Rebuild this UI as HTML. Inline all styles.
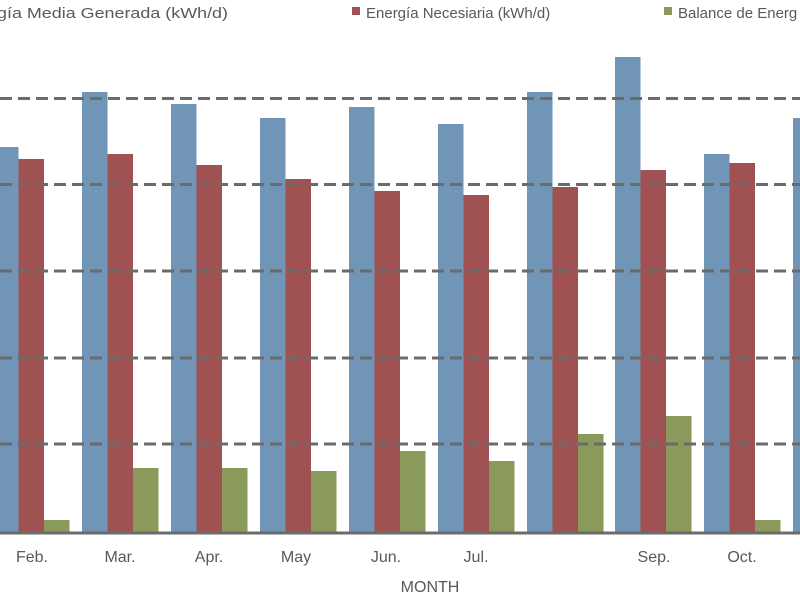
<!DOCTYPE html>
<html><head><meta charset="utf-8"><style>
html,body{margin:0;padding:0;background:#fff;width:800px;height:600px;overflow:hidden}
svg{display:block;font-family:"Liberation Sans",sans-serif}
</style></head><body>
<svg width="800" height="600" viewBox="0 0 800 600">
<g fill="#7095b6">
<rect x="-7" y="147" width="25.5" height="386"/>
<rect x="82" y="92" width="25.5" height="441"/>
<rect x="171" y="104" width="25.5" height="429"/>
<rect x="260" y="118" width="25.5" height="415"/>
<rect x="349" y="107" width="25.5" height="426"/>
<rect x="438" y="124" width="25.5" height="409"/>
<rect x="527" y="92" width="25.5" height="441"/>
<rect x="615" y="57" width="25.5" height="476"/>
<rect x="704" y="154" width="25.5" height="379"/>
<rect x="793" y="118" width="25.5" height="415"/>
</g>
<g fill="#a05252">
<rect x="18.5" y="159" width="25.5" height="374"/>
<rect x="107.5" y="154" width="25.5" height="379"/>
<rect x="196.5" y="165" width="25.5" height="368"/>
<rect x="285.5" y="179" width="25.5" height="354"/>
<rect x="374.5" y="191" width="25.5" height="342"/>
<rect x="463.5" y="195" width="25.5" height="338"/>
<rect x="552.5" y="187" width="25.5" height="346"/>
<rect x="640.5" y="170" width="25.5" height="363"/>
<rect x="729.5" y="163" width="25.5" height="370"/>
</g>
<g fill="#8a9a5a">
<rect x="44" y="520" width="25.5" height="13"/>
<rect x="133" y="468" width="25.5" height="65"/>
<rect x="222" y="468" width="25.5" height="65"/>
<rect x="311" y="471" width="25.5" height="62"/>
<rect x="400" y="451" width="25.5" height="82"/>
<rect x="489" y="461" width="25.5" height="72"/>
<rect x="578" y="434" width="25.5" height="99"/>
<rect x="666" y="416" width="25.5" height="117"/>
<rect x="755" y="520" width="25.5" height="13"/>
</g>
<g stroke="#6b6b6b" stroke-width="3" stroke-dasharray="12,6">
<line x1="0" y1="98.5" x2="800" y2="98.5"/>
<line x1="0" y1="184.5" x2="800" y2="184.5"/>
<line x1="0" y1="271" x2="800" y2="271"/>
<line x1="0" y1="358" x2="800" y2="358"/>
<line x1="0" y1="444" x2="800" y2="444"/>
</g>
<line x1="0" y1="533" x2="800" y2="533" stroke="#6b6b6b" stroke-width="3"/>
<g fill="#595959" font-size="16" text-anchor="middle">
<text x="32" y="562">Feb.</text>
<text x="120" y="562">Mar.</text>
<text x="209" y="562">Apr.</text>
<text x="296" y="562">May</text>
<text x="386" y="562">Jun.</text>
<text x="476" y="562">Jul.</text>
<text x="654" y="562">Sep.</text>
<text x="742" y="562">Oct.</text>
<text x="430" y="592">MONTH</text>
</g>
<g fill="#595959" font-size="15">
<text x="-3" y="18" textLength="231" lengthAdjust="spacingAndGlyphs">gía Media Generada (kWh/d)</text>
<rect x="352" y="7" width="8" height="8" fill="#a05252"/>
<text x="366" y="18">Energía Necesiaria (kWh/d)</text>
<rect x="664" y="7" width="8" height="8" fill="#8a9a5a"/>
<text x="678" y="18">Balance de Energ</text>
</g>
</svg>
</body></html>
